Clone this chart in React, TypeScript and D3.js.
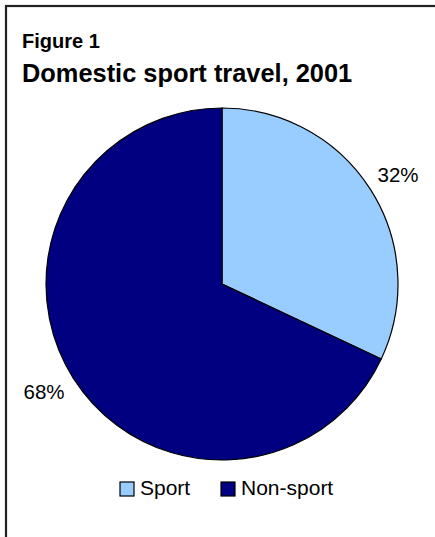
import React from "react";
import * as d3 from "d3";

const categories = ["Sport", "Non-sport"];
const values = [32, 68];
const colors = ["#99CCFF", "#000080"];
const labels = ["32%", "68%"];

export default function App() {
  const W = 435, H = 537;
  const cx = 222, cy = 284, r = 176;
  const pie = d3.pie<number>().sort(null).value((d) => d)(values);
  const arc = d3.arc<d3.PieArcDatum<number>>().innerRadius(0).outerRadius(r);
  const font = "Liberation Sans, Arial, sans-serif";
  return (
    <svg width={W} height={H} style={{ position: "absolute", left: 0, top: 0 }} fontFamily={font}>
      <rect x={0} y={0} width={W} height={H} fill="#fff" />
      <rect x={6} y={6} width={W + 20} height={H + 20} fill="none" stroke="#222" strokeWidth={2.2} />
      <text x={22} y={48} fontSize={20} fontWeight="bold">Figure 1</text>
      <text x={22} y={82} fontSize={25.4} fontWeight="bold">Domestic sport travel, 2001</text>
      <g transform={`translate(${cx},${cy})`}>
        {pie.map((p, i) => (
          <path key={categories[i]} d={arc(p) || ""} fill={colors[i]} stroke="#000" strokeWidth={1.2} />
        ))}
      </g>
      <text x={398} y={182} fontSize={20.5} textAnchor="middle">{labels[0]}</text>
      <text x={44} y={399} fontSize={20.5} textAnchor="middle">{labels[1]}</text>
      {categories.map((c, i) => {
        const x = i === 0 ? 120 : 221;
        return (
          <g key={c}>
            <rect x={x} y={482} width={14} height={14} fill={colors[i]} stroke="#000" strokeWidth={1.2} />
            <text x={x + 20} y={495} fontSize={21}>{c}</text>
          </g>
        );
      })}
    </svg>
  );
}
